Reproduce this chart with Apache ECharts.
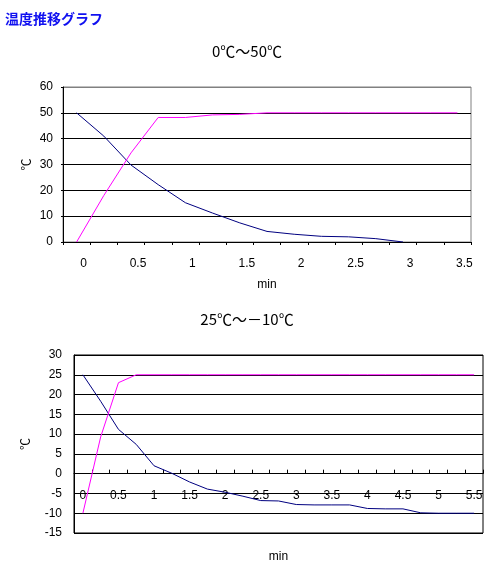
<!DOCTYPE html>
<html>
<head>
<meta charset="utf-8">
<script src="https://cdn.jsdelivr.net/npm/echarts@6/dist/echarts.min.js"></script>
<style>
html,body{margin:0;padding:0;background:#fff;}
#c{width:498px;height:581px;}
</style>
</head>
<body>
<div id="c"></div>
<script>
// ---- data ----
const pageTitle = '温度推移グラフ';
const topTitle = '0℃～50℃';
const bottomTitle = '25℃～－10℃';
const yUnit = '℃';
const xUnit = 'min';

const topCategories = ['0','0.25','0.5','0.75','1','1.25','1.5','1.75','2','2.25','2.5','2.75','3','3.25','3.5'];
const topBlue    = [50, 41, 29.8, 22.2, 15.2, 11.2, 7.4, 4.1, 3.0, 2.2, 2.0, 1.3, 0];
const topMagenta = [0, 18, 34.5, 48.2, 48.2, 49.2, 49.4, 50, 50, 50, 50, 50, 50, 50, 50];
const topYMin = 0, topYMax = 60, topYStep = 10;

const bottomCategories = ['0','0.25','0.5','0.75','1','1.25','1.5','1.75','2','2.25','2.5','2.75','3','3.25','3.5','3.75','4','4.25','4.5','4.75','5','5.25','5.5'];
const bottomBlue    = [25, 18.3, 11.2, 7.4, 2.0, 0.1, -2.1, -3.9, -4.7, -5.7, -6.8, -6.9, -7.8, -7.9, -7.9, -7.9, -8.8, -8.9, -8.9, -9.9, -10, -10, -10];
const bottomMagenta = [-10, 9.3, 23, 25, 25, 25, 25, 25, 25, 25, 25, 25, 25, 25, 25, 25, 25, 25, 25, 25, 25, 25, 25];
const bottomYMin = -15, bottomYMax = 30, bottomYStep = 5;

// ---- chart ----
const chart = echarts.init(document.getElementById('c'), null, {renderer: 'canvas'});
const numFont = 'Liberation Sans';
const cjkFont = 'Noto Sans CJK JP';
const navy = '#000080', magenta = '#ff00ff';

const topSplitColors = ['#000000','#000000','#000000','#000000','#000000','#000000','#808080'];

chart.setOption({
  animation: false,
  backgroundColor: '#ffffff',
  title: [
    {text: pageTitle, left: 0, top: 7, textStyle: {fontFamily: cjkFont, fontSize: 14, fontWeight: 'bold', color: '#1010f0'}},
    {text: topTitle, left: 242, top: 39, textAlign: 'center', textStyle: {fontFamily: cjkFont, fontSize: 15, fontWeight: 'normal', color: '#000'}},
    {text: bottomTitle, left: 242, top: 307, textAlign: 'center', textStyle: {fontFamily: cjkFont, fontSize: 15, fontWeight: 'normal', color: '#000'}}
  ],
  grid: [
    {left: 63, top: 87, width: 408, height: 155, show: true, borderColor: '#808080', borderWidth: 1, backgroundColor: '#fff', containLabel: false, outerBoundsMode: 'none'},
    {left: 74, top: 355, width: 409, height: 178, show: true, borderColor: '#000000', borderWidth: 1, backgroundColor: '#fff', containLabel: false, outerBoundsMode: 'none'}
  ],
  xAxis: [
    {
      gridIndex: 0, type: 'category', data: topCategories, boundaryGap: true,
      name: xUnit, nameLocation: 'middle', nameGap: 37, nameMoveOverlap: false,
      nameTextStyle: {fontFamily: numFont, fontSize: 12, color: '#000'},
      axisLine: {show: true, lineStyle: {color: '#000', width: 1}},
      axisTick: {show: true, interval: 0, length: 3, inside: false, lineStyle: {color: '#000'}},
      axisLabel: {interval: 1, margin: 16, fontFamily: numFont, fontSize: 12, color: '#000', padding: [0, 0, 0, 14]},
      splitLine: {show: false}
    },
    {
      gridIndex: 1, type: 'category', data: bottomCategories, boundaryGap: true,
      name: xUnit, nameLocation: 'middle', nameGap: 18, nameMoveOverlap: false,
      nameTextStyle: {fontFamily: numFont, fontSize: 12, color: '#000'},
      axisLine: {show: true, onZero: true, lineStyle: {color: '#000', width: 1}},
      axisTick: {show: true, interval: 0, length: 4, inside: true, lineStyle: {color: '#000'}},
      axisLabel: {interval: 1, margin: -43, fontFamily: numFont, fontSize: 12, color: '#000'},
      splitLine: {show: false}
    }
  ],
  yAxis: [
    {
      gridIndex: 0, type: 'value', min: topYMin, max: topYMax, interval: topYStep,
      name: yUnit, nameLocation: 'middle', nameGap: 31, nameRotate: 90, nameMoveOverlap: false,
      nameTextStyle: {fontFamily: cjkFont, fontSize: 12, color: '#000'},
      axisLine: {show: true, lineStyle: {color: '#000', width: 1}},
      axisTick: {show: true, length: 2, lineStyle: {color: '#000'}},
      axisLabel: {margin: 10, fontFamily: numFont, fontSize: 12, color: '#000'},
      splitLine: {show: true, lineStyle: {color: topSplitColors, width: 1}}
    },
    {
      gridIndex: 1, type: 'value', min: bottomYMin, max: bottomYMax, interval: bottomYStep,
      name: yUnit, nameLocation: 'middle', nameGap: 43, nameRotate: 90, nameMoveOverlap: false,
      nameTextStyle: {fontFamily: cjkFont, fontSize: 12, color: '#000'},
      axisLine: {show: true, lineStyle: {color: '#000', width: 1}},
      axisTick: {show: false},
      axisLabel: {margin: 12, fontFamily: numFont, fontSize: 12, color: '#000'},
      splitLine: {show: true, lineStyle: {color: '#000', width: 1}}
    }
  ],
  series: [
    {type: 'line', xAxisIndex: 0, yAxisIndex: 0, data: topBlue, showSymbol: false, symbol: 'none', lineStyle: {color: navy, width: 1}, itemStyle: {color: navy}, z: 3},
    {type: 'line', xAxisIndex: 0, yAxisIndex: 0, data: topMagenta, showSymbol: false, symbol: 'none', lineStyle: {color: magenta, width: 1}, itemStyle: {color: magenta}, z: 3},
    {type: 'line', xAxisIndex: 1, yAxisIndex: 1, data: bottomBlue, showSymbol: false, symbol: 'none', lineStyle: {color: navy, width: 1}, itemStyle: {color: navy}, z: 3},
    {type: 'line', xAxisIndex: 1, yAxisIndex: 1, data: bottomMagenta, showSymbol: false, symbol: 'none', lineStyle: {color: magenta, width: 1}, itemStyle: {color: magenta}, z: 3}
  ]
});
</script>
</body>
</html>
